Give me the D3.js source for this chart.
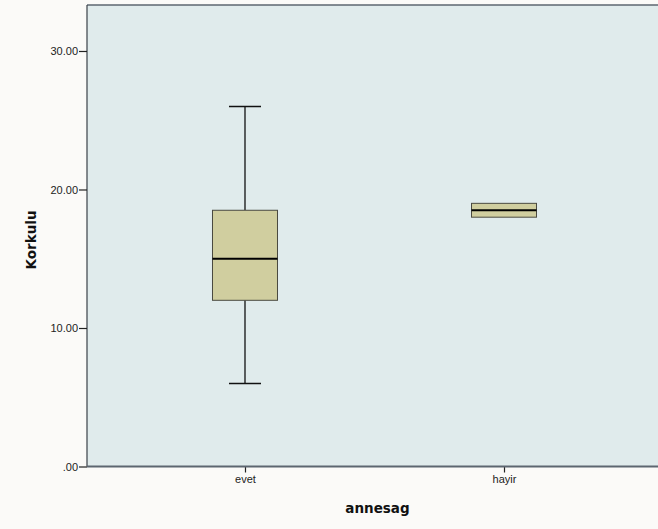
<!DOCTYPE html>
<html><head><meta charset="utf-8">
<script src="https://cdn.jsdelivr.net/npm/d3@7"></script>
<style>body{margin:0;background:#fbfaf8;}svg{display:block;}</style>
</head><body>
<svg id="c" width="658" height="529"></svg>
<script>
const categories = ["evet", "hayir"];
const lowerWhisker = [6, 18];
const q1 = [12, 18];
const median = [15, 18.5];
const q3 = [18.5, 19];
const upperWhisker = [26, 19];
const yTicks = [0, 10, 20, 30];
const yTickLabels = [".00", "10.00", "20.00", "30.00"];

(function () {
const svg = d3.select("#c");
const W = 658, H = 529;
const mLeft = 87, mTop = 5, mBottom = 466.5, mRight = 662;

const y = d3.scaleLinear().domain([0, 33.32]).range([mBottom, mTop]);
const x = d3.scalePoint().domain(categories).range([mLeft, mRight]).padding(0.61);

svg.append("rect").attr("width", W).attr("height", H).attr("fill", "#fbfaf8");
svg.append("rect").attr("x", mLeft).attr("y", mTop).attr("width", mRight - mLeft).attr("height", mBottom - mTop)
  .attr("fill", "#e0ebec");
svg.append("line").attr("x1", mLeft).attr("x2", mRight).attr("y1", mTop).attr("y2", mTop).attr("stroke", "#5d6670").attr("stroke-width", 1.5);
svg.append("line").attr("x1", mLeft).attr("x2", mLeft).attr("y1", mTop).attr("y2", mBottom).attr("stroke", "#3a4048").attr("stroke-width", 1.2);

const yAxis = d3.axisLeft(y).tickValues(yTicks).tickFormat((d, i) => yTickLabels[i]).tickSize(8).tickPadding(1);
const ga = svg.append("g").attr("transform", `translate(${mLeft},0)`).call(yAxis);
ga.select(".domain").remove();
ga.selectAll(".tick line").attr("stroke", "#222").attr("stroke-width", 1.2);
ga.selectAll(".tick text").attr("font-family", "Liberation Sans, Arial, sans-serif").attr("font-size", 11).attr("fill", "#222");

const xAxis = d3.axisBottom(x).tickSize(6).tickPadding(3);
const gx = svg.append("g").attr("transform", `translate(0,${mBottom})`).call(xAxis);
gx.select(".domain").remove();
gx.selectAll(".tick line").attr("stroke", "#222").attr("stroke-width", 1.2);
gx.selectAll(".tick text").attr("font-family", "Liberation Sans, Arial, sans-serif").attr("font-size", 11).attr("fill", "#222");
svg.append("line").attr("x1", mLeft).attr("x2", mRight).attr("y1", mBottom).attr("y2", mBottom).attr("stroke", "#5d6670").attr("stroke-width", 2);

const boxW = 65, capW = 32;
categories.forEach((c, i) => {
  const cx = x(c);
  const g = svg.append("g");
  if (upperWhisker[i] > q3[i]) {
    g.append("line").attr("x1", cx).attr("x2", cx).attr("y1", y(q3[i])).attr("y2", y(upperWhisker[i])).attr("stroke", "#111").attr("stroke-width", 1.3);
    g.append("line").attr("x1", cx - capW / 2).attr("x2", cx + capW / 2).attr("y1", y(upperWhisker[i])).attr("y2", y(upperWhisker[i])).attr("stroke", "#111").attr("stroke-width", 1.5);
  }
  if (lowerWhisker[i] < q1[i]) {
    g.append("line").attr("x1", cx).attr("x2", cx).attr("y1", y(q1[i])).attr("y2", y(lowerWhisker[i])).attr("stroke", "#111").attr("stroke-width", 1.3);
    g.append("line").attr("x1", cx - capW / 2).attr("x2", cx + capW / 2).attr("y1", y(lowerWhisker[i])).attr("y2", y(lowerWhisker[i])).attr("stroke", "#111").attr("stroke-width", 1.5);
  }
  g.append("rect").attr("x", cx - boxW / 2).attr("y", y(q3[i])).attr("width", boxW).attr("height", y(q1[i]) - y(q3[i]))
    .attr("fill", "#d0ce9f").attr("stroke", "#4a4a40").attr("stroke-width", 1);
  g.append("line").attr("x1", cx - boxW / 2).attr("x2", cx + boxW / 2).attr("y1", y(median[i])).attr("y2", y(median[i])).attr("stroke", "#000").attr("stroke-width", 2);
});

svg.append("text").attr("x", (x("evet") + x("hayir")) / 2 + 3).attr("y", 513).attr("text-anchor", "middle")
  .attr("font-family", "DejaVu Sans, Verdana, sans-serif").attr("font-size", 13.5).attr("font-weight", "bold").attr("fill", "#111").text("annesag");
svg.append("text").attr("transform", `translate(36,240) rotate(-90)`).attr("text-anchor", "middle")
  .attr("font-family", "DejaVu Sans, Verdana, sans-serif").attr("font-size", 13.5).attr("font-weight", "bold").attr("fill", "#111").text("Korkulu");
})();
</script>
</body></html>
